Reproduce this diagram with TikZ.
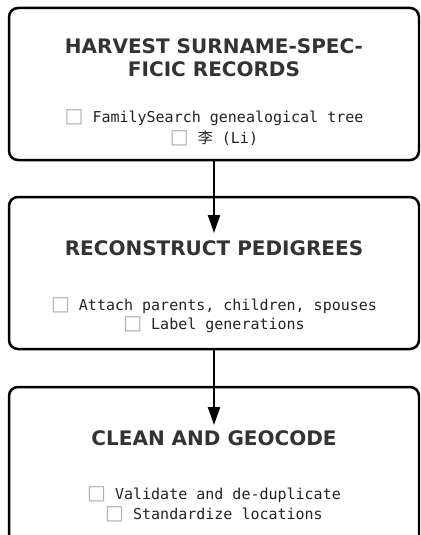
\documentclass[tikz,border=0pt]{standalone}
\usepackage{fontspec}
\setmainfont{DejaVu Sans}
\newfontfamily\titlefont{DejaVu Sans}
\newfontfamily\itemfont{DejaVu Sans Mono}
\newfontfamily\symfont{DejaVu Sans}
\newfontfamily\cjk{Noto Sans CJK SC}
\usetikzlibrary{arrows.meta}
\definecolor{titlegray}{HTML}{333333}
\definecolor{itemgray}{HTML}{222222}
\definecolor{boxgray}{HTML}{B0B0B0}
\newcommand{\cb}{\textcolor{boxgray}{\symfont\fontsize{20}{20}\selectfont □}}
\begin{document}
\begin{tikzpicture}[x=1pt,y=-1pt,
  box/.style={draw=black, line width=2.5pt, rounded corners=9pt, fill=white, inner sep=0pt},
  title/.style={anchor=base, font=\titlefont\bfseries\fontsize{20}{24}\selectfont, text=titlegray, inner sep=0pt},
  item/.style={anchor=base, font=\itemfont\fontsize{15}{18}\selectfont, text=itemgray, inner sep=0pt},
  flow/.style={line width=2.2pt, -{Triangle[length=18pt,width=12pt]}}]
\useasboundingbox (0,0) rectangle (420,535);
\clip (0,0) rectangle (420,535);
% boxes
\node[box, minimum width=410pt, minimum height=152pt] (b1) at (214,84) {};
\node[box, minimum width=410pt, minimum height=152pt] (b2) at (214,273) {};
\node[box, minimum width=410pt, minimum height=173pt] (b3) at (214,473.5) {};
% box 1 text
\node[title] (t1a) at (214,53) {HARVEST SURNAME-SPEC-};
\node[title] (t1b) at (214,76) {FICIC RECORDS};
\node[item] (i1a) at (214,122) {\cb\ FamilySearch genealogical tree};
\node[item] (i1b) at (214,143) {\cb\ {\cjk 李} (Li)};
% box 2 text
\node[title] (t2) at (214,255) {RECONSTRUCT PEDIGREES};
\node[item] (i2a) at (214,310) {\cb\ Attach parents, children, spouses};
\node[item] (i2b) at (214,329) {\cb\ Label generations};
% box 3 text
\node[title] (t3) at (214,445) {CLEAN AND GEOCODE};
\node[item] (i3a) at (214,499) {\cb\ Validate and de-duplicate};
\node[item] (i3b) at (214,519) {\cb\ Standardize locations};
% arrows
\coordinate (e1) at (214,233);
\coordinate (e2) at (214,425);
\draw[flow] (b1.south) -- (e1);
\draw[flow] (b2.south) -- (e2);
\end{tikzpicture}
\end{document}
